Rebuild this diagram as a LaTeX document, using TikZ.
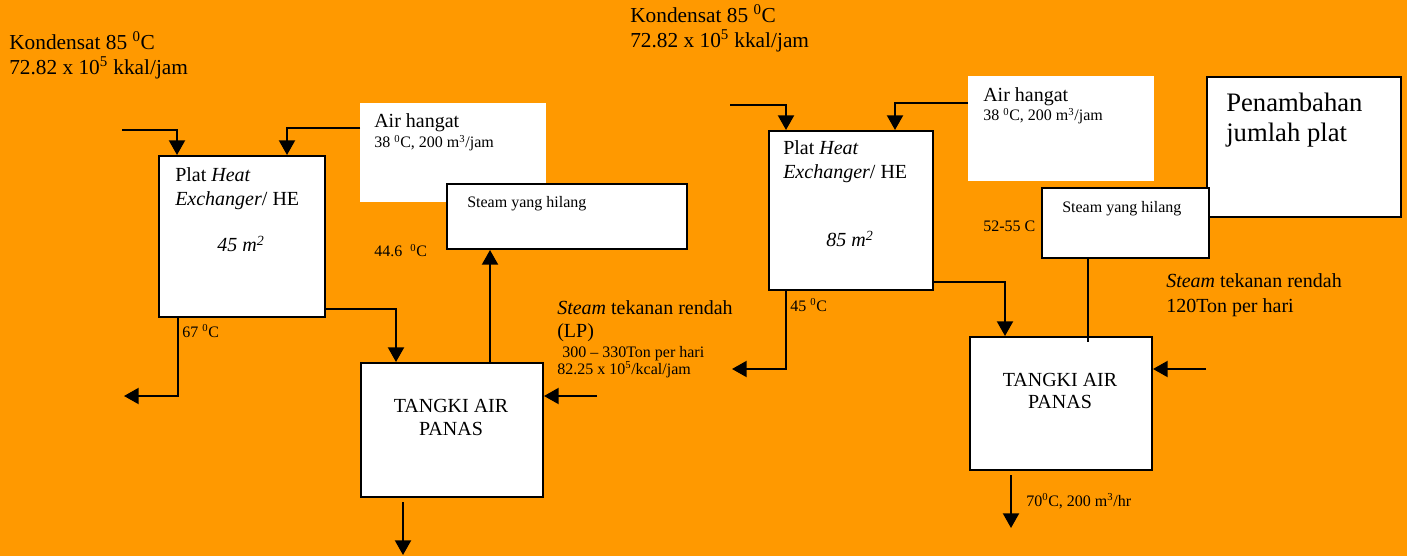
\documentclass[tikz,border=0pt]{standalone}
\usepackage{fontspec}
\setmainfont{Liberation Serif}
\usetikzlibrary{arrows.meta, positioning, calc}
\definecolor{bgorange}{RGB}{255,153,0}
\tikzset{
  >={Triangle[length=11pt, width=12pt]},
  box/.style      = {draw, line width=1.5pt, fill=white, inner sep=0pt, anchor=north west},
  plain/.style    = {fill=white, inner sep=0pt, anchor=north west},
  wh/.style 2 args = {minimum width=#1*0.75pt, minimum height=#2*0.75pt},
  lbl/.style      = {inner sep=0pt, anchor=base west, align=left,
                     font=\fontsize{15}{18}\selectfont},
  big/.style      = {lbl, font=\fontsize{16}{18.75}\selectfont},
  small/.style    = {lbl, font=\fontsize{12}{14}\selectfont},
  headline/.style = {lbl, font=\fontsize{20}{22.5}\selectfont},
  arrow/.style    = {->, line width=1.5pt},
  pipe/.style     = {line width=1.5pt},
}

\begin{document}
\begin{tikzpicture}[x=0.75pt, y=-0.75pt]
  \path[fill=bgorange, use as bounding box] (0,0) rectangle (1407,556);

  % left unit, 45 m2  (multi-line labels sit on their last baseline)
  \node[box,   wh={166}{161}] (he1) at (158,155) {};
  \node[plain, wh={186}{99}]  (ah1) at (360,103) {};
  \node[box,   wh={240}{65}]  (sh1) at (446,183) {};
  \node[box,   wh={182}{134}] (tk1) at (360,362) {};

  \node[big]   (kd1)  at (9,75)    {Kondensat 85 \textsuperscript{0}C\\72.82 x 10\textsuperscript{5} kkal/jam};
  \node[lbl]   (pl1)  at (175,206) {Plat \textit{Heat}\\\textit{Exchanger}/ HE};
  \node[lbl, anchor=base] (ar1) at (241,252) {\textit{45 m\textsuperscript{2}}};
  \node[lbl]   (ahl1) at (374,128) {Air hangat};
  \node[small] (aht1) at (374,148) {38 \textsuperscript{0}C, 200 m\textsuperscript{3}/jam};
  \node[small] (shl1) at (467,208) {Steam yang hilang};
  \node[small] (t446) at (374,257) {44.6\ \ \textsuperscript{0}C};
  \node[small] (t67)  at (182,337) {67 \textsuperscript{0}C};
  \node[lbl, anchor=base, align=center, font=\fontsize{15}{17.25}\selectfont]
    (tkl1) at (451,435) {TANGKI AIR\\PANAS};
  \node[lbl, font=\fontsize{15}{17.25}\selectfont]
    (lp1t) at (557,337) {\textit{Steam} tekanan rendah\\(LP)};
  \node[small] (lp1q) at (562,357) {300 -- 330Ton per hari};
  \node[small] (lp1e) at (557,374) {82.25 x 10\textsuperscript{5}/kcal/jam};

  \coordinate (kin1)   at (122,130);
  \coordinate (hout1)  at (124,396);
  \coordinate (lpin1)  at (597,396);
  \coordinate (tout1a) at (403,502);
  \coordinate (tout1b) at (403,555);

  \draw[arrow] (kin1) -| ($(he1.north west)+(19,0)$);
  \draw[arrow] ($(ah1.north west)+(0,25)$) -| ($(he1.north west)+(129,0)$);
  \draw[arrow] ($(he1.south east)+(0,-9)$) -| ($(tk1.north west)+(36,0)$);
  \draw[arrow] ($(he1.south west)+(20,0)$) |- (hout1);
  \draw[arrow] ($(tk1.north west)+(130,0)$) -- ($(sh1.south west)+(44,0)$);
  \draw[arrow] (lpin1) -- (lpin1 -| tk1.east);
  \draw[arrow] (tout1a) -- (tout1b);

  % right unit, 85 m2
  \node[box,   wh={164}{159}] (he2) at (768,130) {};
  \node[plain, wh={186}{105}] (ah2) at (968,76) {};
  \node[box,   wh={194}{140}] (pt2) at (1206,76) {};
  \node[box,   wh={167}{70}]  (sh2) at (1041,187) {};
  \node[box,   wh={182}{133}] (tk2) at (969,336) {};

  \node[big]   (kd2)  at (630,48)  {Kondensat 85 \textsuperscript{0}C\\72.82 x 10\textsuperscript{5} kkal/jam};
  \node[lbl]   (pl2)  at (783,179) {Plat \textit{Heat}\\\textit{Exchanger}/ HE};
  \node[lbl, anchor=base] (ar2) at (850,247) {\textit{85 m\textsuperscript{2}}};
  \node[lbl]   (ahl2) at (983,102) {Air hangat};
  \node[small] (aht2) at (983,121) {38 \textsuperscript{0}C, 200 m\textsuperscript{3}/jam};
  \node[headline] (ptl2) at (1226,142) {Penambahan\\jumlah plat};
  \node[small] (shl2) at (1062,213) {Steam yang hilang};
  \node[small] (t5255) at (983,232) {52-55 C};
  \node[small] (t45)  at (790,311) {45 \textsuperscript{0}C};
  \node[lbl, font=\fontsize{15}{18.75}\selectfont]
    (lp2t) at (1166,312) {\textit{Steam} tekanan rendah\\120Ton per hari};
  \node[lbl, anchor=base, align=center, font=\fontsize{15}{16.5}\selectfont]
    (tkl2) at (1060,408) {TANGKI AIR\\PANAS};
  \node[small] (t70)  at (1026,506) {70\textsuperscript{0}C, 200 m\textsuperscript{3}/hr};

  \coordinate (kin2)   at (730,105);
  \coordinate (hout2)  at (732,369);
  \coordinate (lpin2)  at (1206,369);
  \coordinate (tout2a) at (1011,475);
  \coordinate (tout2b) at (1011,528);

  \draw[arrow] (kin2) -| ($(he2.north west)+(18,0)$);
  \draw[arrow] ($(ah2.north west)+(0,27)$) -| ($(he2.north west)+(127,0)$);
  \draw[arrow] ($(he2.south east)+(0,-9)$) -| ($(tk2.north west)+(36,0)$);
  \draw[arrow] ($(he2.south west)+(18,0)$) |- (hout2);
  \draw[pipe]  ($(sh2.south west)+(47,0)$) -- ($(tk2.north west)+(119,6)$);
  \draw[arrow] (lpin2) -- (lpin2 -| tk2.east);
  \draw[arrow] (tout2a) -- (tout2b);
\end{tikzpicture}
\end{document}
